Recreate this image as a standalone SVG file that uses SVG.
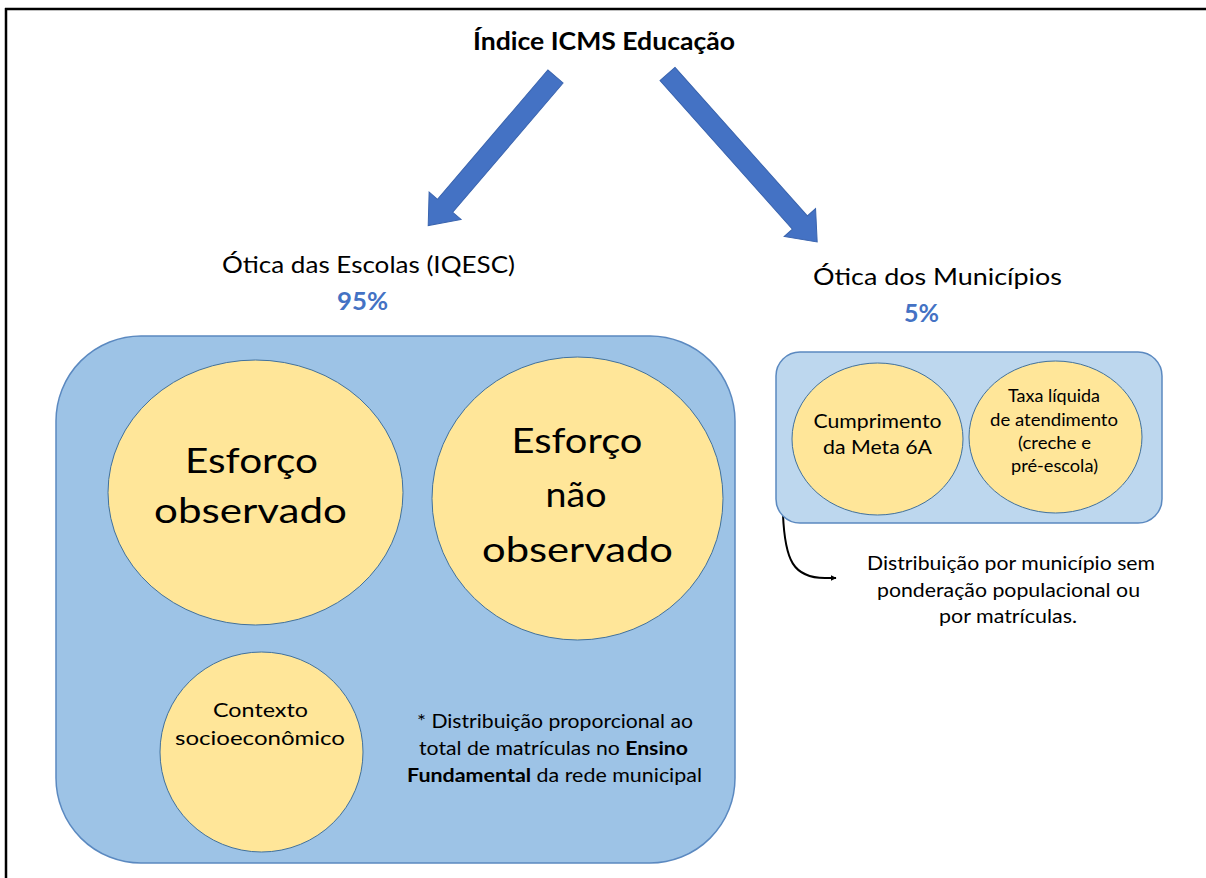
<svg xmlns="http://www.w3.org/2000/svg" width="1206" height="878" viewBox="0 0 1206 878">
<style>
text{font-family:Lato,"Open Sans","Liberation Sans",sans-serif;fill:#000;text-anchor:middle}
.b{font-weight:bold}
.pct{font-weight:bold;fill:#4472C4;font-size:25px}
.h{font-size:24px}
.big{font-size:35px}
.sm{font-size:18.5px}
.xs{font-size:17px}
.circ{fill:#FFE699;stroke:#41719C;stroke-width:1}
.blk{fill:#4472C4;stroke:#3A64AE;stroke-width:1}
</style>
<defs>
<marker id="ah" viewBox="0 0 10 10" refX="9" refY="5" markerWidth="6" markerHeight="6" orient="auto" markerUnits="userSpaceOnUse">
<path d="M0,0 L10,5 L0,10 z" fill="#000"/>
</marker>
</defs>
<rect width="1206" height="878" fill="#fff"/>
<g id="frame" fill="none" stroke="#000" stroke-width="2.5">
<line x1="5" y1="9" x2="1206" y2="9"/>
<line x1="6" y1="8" x2="6" y2="878"/>
</g>
<g id="title"><text class="b" x="604" y="50" font-size="25.5" textLength="262" lengthAdjust="spacingAndGlyphs">Índice ICMS Educação</text></g>
<g id="connectors">
<g transform="translate(555.5,76.5) rotate(130.5)"><polygon class="blk" points="0,-10 170,-10 170,-21 196,0 170,21 170,10 0,10"/></g>
<g transform="translate(667.5,74) rotate(48.3)"><polygon class="blk" points="0,-10 199,-10 199,-21 225,0 199,21 199,10 0,10"/></g>
<path d="M783,515 C785,560 793,578 825,578 L836,578" fill="none" stroke="#000" stroke-width="2" marker-end="url(#ah)"/>
</g>
<g id="escolas-label">
<text class="h" x="368.5" y="273" textLength="293" lengthAdjust="spacingAndGlyphs">Ótica das Escolas (IQESC)</text>
<text class="pct" x="362.5" y="310" textLength="51" lengthAdjust="spacingAndGlyphs">95%</text>
</g>
<g id="municipios-label">
<text class="h" x="937.5" y="285" textLength="249" lengthAdjust="spacingAndGlyphs">Ótica dos Municípios</text>
<text class="pct" x="921.5" y="322" textLength="35" lengthAdjust="spacingAndGlyphs">5%</text>
</g>
<g id="escolas-box">
<rect x="56" y="336" width="679" height="527" rx="85" ry="85" fill="#9DC3E6" stroke="#5B89C0" stroke-width="1.5"/>
</g>
<g id="esforco-observado">
<ellipse class="circ" cx="255.5" cy="492.5" rx="147.5" ry="132.5"/>
<text class="big" x="251.5" y="473" textLength="133" lengthAdjust="spacingAndGlyphs">Esforço</text>
<text class="big" x="250.5" y="523" textLength="193" lengthAdjust="spacingAndGlyphs">observado</text>
</g>
<g id="esforco-nao-observado">
<ellipse class="circ" cx="577.5" cy="498.5" rx="145.5" ry="141.5"/>
<text class="big" x="577" y="453" textLength="131" lengthAdjust="spacingAndGlyphs">Esforço</text>
<text class="big" x="576" y="507" textLength="61" lengthAdjust="spacingAndGlyphs">não</text>
<text class="big" x="577.5" y="562" textLength="191" lengthAdjust="spacingAndGlyphs">observado</text>
</g>
<g id="contexto">
<ellipse class="circ" cx="261.5" cy="752" rx="101.5" ry="100"/>
<text class="sm" x="260.5" y="717" textLength="95" lengthAdjust="spacingAndGlyphs">Contexto</text>
<text class="sm" x="260" y="745" textLength="170" lengthAdjust="spacingAndGlyphs">socioeconômico</text>
</g>
<g id="nota-escolas">
<text class="sm" x="555" y="728" textLength="276" lengthAdjust="spacingAndGlyphs">* Distribuição proporcional ao</text>
<text class="sm" x="553.5" y="755" textLength="269" lengthAdjust="spacingAndGlyphs">total de matrículas no <tspan class="b">Ensino</tspan></text>
<text class="sm" x="554.5" y="782" textLength="295" lengthAdjust="spacingAndGlyphs"><tspan class="b">Fundamental</tspan> da rede municipal</text>
</g>
<g id="municipios-box">
<rect x="776" y="352" width="386" height="171" rx="24" ry="24" fill="#BDD7EE" stroke="#5B89C0" stroke-width="1.5"/>
</g>
<g id="meta-6a">
<ellipse class="circ" cx="877.5" cy="439" rx="85.5" ry="76"/>
<text class="sm" x="877.5" y="428" textLength="128" lengthAdjust="spacingAndGlyphs">Cumprimento</text>
<text class="sm" x="877.5" y="454" textLength="109" lengthAdjust="spacingAndGlyphs">da Meta 6A</text>
</g>
<g id="taxa-liquida">
<ellipse class="circ" cx="1055.5" cy="437" rx="86.5" ry="76"/>
<text class="xs" x="1054" y="402" textLength="92" lengthAdjust="spacingAndGlyphs">Taxa líquida</text>
<text class="xs" x="1054" y="426" textLength="128" lengthAdjust="spacingAndGlyphs">de atendimento</text>
<text class="xs" x="1054.5" y="449" textLength="73" lengthAdjust="spacingAndGlyphs">(creche e</text>
<text class="xs" x="1054.5" y="472" textLength="87" lengthAdjust="spacingAndGlyphs">pré-escola)</text>
</g>
<g id="nota-municipios">
<text class="sm" x="1011" y="570" textLength="288" lengthAdjust="spacingAndGlyphs">Distribuição por município sem</text>
<text class="sm" x="1008.5" y="597" textLength="263" lengthAdjust="spacingAndGlyphs">ponderação populacional ou</text>
<text class="sm" x="1008" y="623" textLength="138" lengthAdjust="spacingAndGlyphs">por matrículas.</text>
</g>
</svg>
